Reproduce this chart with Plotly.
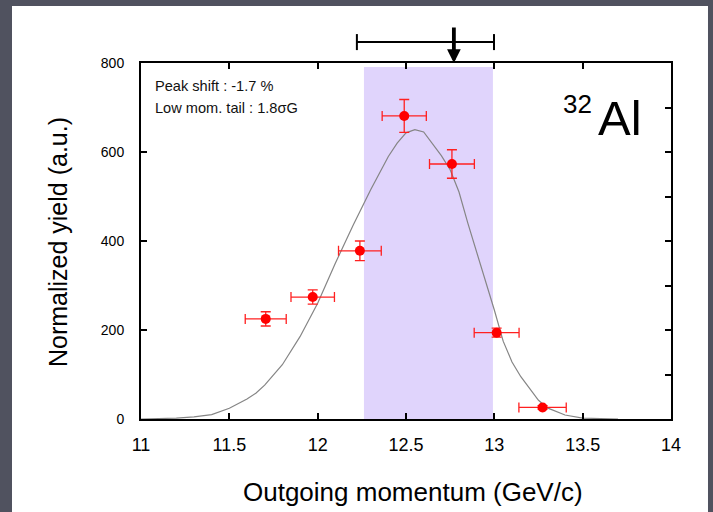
import plotly.graph_objects as go

# ---- data ----
x_vals = [11.706, 11.972, 12.239, 12.49, 12.76, 13.013, 13.273]
y_vals = [225, 274, 378, 681, 573, 194, 26]
x_err = [0.116, 0.123, 0.121, 0.125, 0.127, 0.127, 0.134]
y_err = [16, 16, 22, 37, 32, 10, 4]

curve_x = [11.0, 11.1, 11.2, 11.3, 11.4, 11.5, 11.6, 11.65, 11.7, 11.8, 11.9, 12.0,
           12.1, 12.2, 12.3, 12.4, 12.45, 12.5, 12.55, 12.6, 12.65, 12.7, 12.75,
           12.8, 12.85, 12.9, 12.95, 13.0, 13.05, 13.1, 13.15, 13.2, 13.25, 13.3,
           13.4, 13.5, 13.6, 13.7]
curve_y = [0, 0.5, 2, 5, 10, 24, 45, 58, 76, 122, 185, 260,
           350, 435, 515, 590, 620, 643, 650, 645, 618, 592, 560,
           510, 440, 375, 315, 245, 175, 128, 95, 68, 42, 25,
           9, 2, 0.5, 0]

shade_x = [12.262, 12.992]
shade_top = 791
range_bar = [12.222, 12.998]
range_level = 847
range_cap = 18
arrow_x = 12.771

x_ticks = [11, 11.5, 12, 12.5, 13, 13.5, 14]
x_ticktext = ["11", "11.5", "12", "12.5", "13", "13.5", "14"]
y_ticks = [0, 200, 400, 600, 800]
x_range = [11, 14]
y_range = [0, 800]

FONT = "Liberation Sans, Arial, sans-serif"

fig = go.Figure()
fig.add_trace(go.Scatter(x=curve_x, y=curve_y, mode="lines",
                         line=dict(color="#858585", width=1.2), hoverinfo="skip"))
fig.add_trace(go.Scatter(
    x=x_vals, y=y_vals, mode="markers",
    marker=dict(color="#ff0000", size=10),
    error_x=dict(type="data", array=x_err, color="#ff2020", thickness=1.3, width=5),
    error_y=dict(type="data", array=y_err, color="#ff2020", thickness=1.3, width=5),
))
# empty trace to carry the right-hand tick axis
fig.add_trace(go.Scatter(x=[], y=[], yaxis="y2", hoverinfo="skip"))

axis_common = dict(showline=True, linecolor="black", linewidth=2, ticks="inside",
                   ticklen=6, tickwidth=2, tickcolor="black", showgrid=False,
                   zeroline=False)

fig.update_layout(
    width=713, height=512,
    margin=dict(l=141, r=42, t=63, b=93),
    paper_bgcolor="#50525f", plot_bgcolor="white",
    showlegend=False,
    font=dict(family=FONT, color="black"),
    xaxis=dict(range=x_range, tickvals=x_ticks, ticktext=x_ticktext, mirror="ticks",
               tickfont=dict(size=18, family=FONT, color="black"),
               ticklabelstandoff=8, **axis_common),
    yaxis=dict(range=y_range, tickvals=y_ticks, mirror=False,
               tickfont=dict(size=14, family=FONT, color="black"),
               ticklabelstandoff=12, **axis_common),
    yaxis2=dict(range=y_range, dtick=100, overlaying="y", side="right",
                showticklabels=False, **axis_common),
)

shapes = [
    dict(type="rect", xref="paper", yref="paper", x0=-0.2434, x1=1.0698,
         y0=-0.2612, y1=1.1601, fillcolor="white", line=dict(width=0), layer="below"),
    dict(type="rect", xref="x", yref="y", x0=shade_x[0], x1=shade_x[1], y0=0,
         y1=shade_top, fillcolor="#e0d4fc", line=dict(width=0), layer="below"),
    dict(type="line", xref="x", yref="paper", x0=range_bar[0], x1=range_bar[1],
         y0=range_level / y_range[1], y1=range_level / y_range[1],
         line=dict(color="black", width=2)),
]
for xb in range_bar:
    shapes.append(dict(type="line", xref="x", yref="paper", x0=xb, x1=xb,
                       y0=(range_level - range_cap) / y_range[1],
                       y1=(range_level + range_cap) / y_range[1],
                       line=dict(color="black", width=2)))
fig.update_layout(shapes=shapes)

annotations = [
    dict(x=arrow_x, y=1.0, xref="x", yref="paper", text="", showarrow=True,
         ax=0, ay=-37, arrowhead=2, arrowwidth=3.8, arrowsize=0.72, arrowcolor="black"),
    dict(x=0.0226, y=0.935, xref="paper", yref="paper", text="Peak shift : -1.7 %",
         showarrow=False, xanchor="left", yanchor="middle",
         font=dict(size=14.6, family=FONT, color="#111111")),
    dict(x=0.0226, y=0.8736, xref="paper", yref="paper", text="Low mom. tail : 1.8σG",
         showarrow=False, xanchor="left", yanchor="middle",
         font=dict(size=14.6, family=FONT, color="#111111")),
    dict(x=0.792, y=0.885, xref="paper", yref="paper", text="32", showarrow=False,
         xanchor="left", yanchor="middle", font=dict(size=26, family=FONT, color="black")),
    dict(x=0.8585, y=0.8455, xref="paper", yref="paper", text="Al", showarrow=False,
         xanchor="left", yanchor="middle", font=dict(size=49, family=FONT, color="black")),
    dict(x=0.513, y=-0.205, xref="paper", yref="paper", text="Outgoing momentum (GeV/c)",
         showarrow=False, xanchor="center", yanchor="middle",
         font=dict(size=26, family=FONT, color="black")),
    dict(x=-0.1566, y=0.497, xref="paper", yref="paper", text="Normalized yield (a.u.)",
         showarrow=False, xanchor="center", yanchor="middle", textangle=-90,
         font=dict(size=25, family=FONT, color="black")),
]
fig.update_layout(annotations=annotations)

fig.write_html("out.html")
